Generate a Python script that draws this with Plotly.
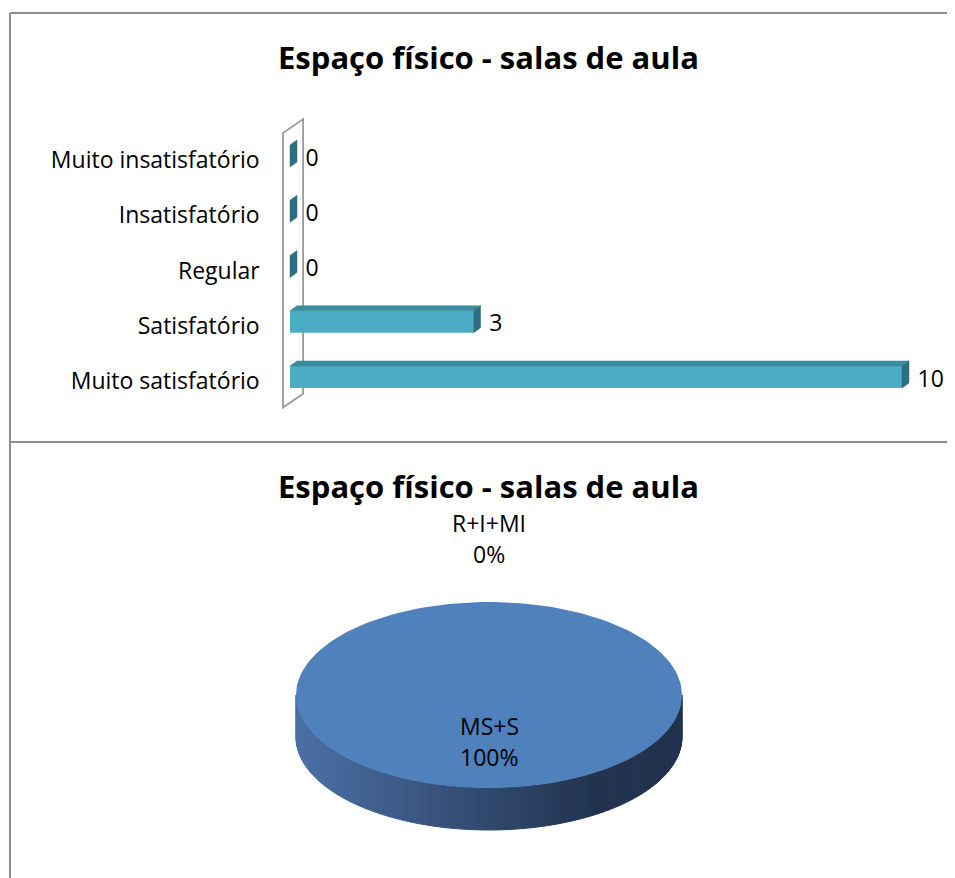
import math
import plotly.graph_objects as go

# ---------------- data ----------------
categories = ["Muito satisfatório", "Satisfatório", "Regular", "Insatisfatório", "Muito insatisfatório"]
counts = [10, 3, 0, 0, 0]
bar_title = "Espaço físico - salas de aula"

pie_labels = ["R+I+MI", "MS+S"]
pie_values = [0, 13]
pie_title = "Espaço físico - salas de aula"

# ---------------- geometry / style ----------------
PAGE_W, PAGE_H = 955, 878
OFF = 8                      # default body margin of the html page
W, H = PAGE_W - OFF, PAGE_H - OFF
FONT = "'Open Sans', sans-serif"
LBL_SIZE = 23
X0_PX, UX = 290.0, 61.2        # page pixel of value 0, px per unit
YC_PX, UY = 270.5, 55.25       # page pixel of category index 2, px per category
XR = [-0.25, 10.8]
YR = [-0.6, 4.9]
BAR_W, BAR_SHIFT = 0.4, 0.072
DX, DY = 7 / UX, 5 / UY        # bar depth
FRONT, TOP, SIDE = "#4BACC6", "#3C8A9E", "#2E6E80"

def pxx(p):
    return (p - OFF) / W

def pxy(p):
    return 1 - (p - OFF) / H

x_dom = [pxx(X0_PX + XR[0] * UX), pxx(X0_PX + XR[1] * UX)]
y_dom = [pxy(YC_PX - (YR[0] - 2) * UY), pxy(YC_PX - (YR[1] - 2) * UY)]

fig = go.Figure()

# back wall (below the bars)
wx0, wx1 = -0.114, 0.214
wy0, wy1, wdy = -0.48, 4.49, 0.25
fig.add_shape(type="path", xref="x", yref="y", layer="below",
              path=f"M {wx0},{wy0} L {wx0},{wy1} L {wx1},{wy1 + wdy} L {wx1},{wy0 + wdy} Z",
              fillcolor="white", line=dict(color="#9a9a9a", width=1.8))

idx = list(range(len(categories)))
# front faces
fig.add_trace(go.Bar(
    x=counts, y=idx, orientation="h", width=BAR_W, offset=-BAR_W / 2 + BAR_SHIFT,
    marker=dict(color=FRONT, line=dict(width=0)), hoverinfo="skip", showlegend=False,
    xaxis="x", yaxis="y"))

# top and side faces
for v, i in zip(counts, idx):
    yb = i - BAR_W / 2 + BAR_SHIFT
    yt = yb + BAR_W
    if v > 0:
        fig.add_trace(go.Scatter(
            x=[0, DX, v + DX, v, 0], y=[yt, yt + DY, yt + DY, yt, yt],
            mode="lines", fill="toself", fillcolor=TOP, line=dict(color=TOP, width=0.5),
            hoverinfo="skip", showlegend=False, xaxis="x", yaxis="y"))
    fig.add_trace(go.Scatter(
        x=[v, v + DX, v + DX, v, v], y=[yt, yt + DY, yb + DY, yb, yt],
        mode="lines", fill="toself", fillcolor=SIDE, line=dict(color=SIDE, width=0.5),
        hoverinfo="skip", showlegend=False, xaxis="x", yaxis="y"))

# value labels
fig.add_trace(go.Scatter(
    x=[v + DX + 0.14 for v in counts], y=idx, mode="text",
    text=[str(v) for v in counts], textposition="middle right",
    textfont=dict(family=FONT, size=LBL_SIZE, color="#000000"),
    cliponaxis=False, hoverinfo="skip", showlegend=False, xaxis="x", yaxis="y"))

# ---------------- 3D pie (ellipse) ----------------
CX, CY, RX, RY, DEPTH = 489.0, 695.0, 193.0, 93.0, 42.0
TOPC = "#4F81BD"
total = sum(pie_values)

def lerp_col(t):
    a = (0x4B, 0x70, 0xA6)
    b = (0x21, 0x33, 0x4E)
    t = max(0.0, min(1.0, t))
    return "rgb(%d,%d,%d)" % tuple(round(a[k] + (b[k] - a[k]) * t) for k in range(3))

# side band (front half of ellipse), drawn as strips with gradient
N = 90
for k in range(N):
    t0 = math.pi * k / N
    t1 = math.pi * (k + 1) / N
    xs0, ys0 = CX - RX * math.cos(t0), CY + RY * math.sin(t0)
    xs1, ys1 = CX - RX * math.cos(t1), CY + RY * math.sin(t1)
    xm = (xs0 + xs1) / 2
    col = lerp_col((xm - (CX - RX)) / 300.0)
    fig.add_trace(go.Scatter(
        x=[xs0, xs1, xs1, xs0, xs0], y=[ys0, ys1, ys1 + DEPTH, ys0 + DEPTH, ys0],
        mode="lines", fill="toself", fillcolor=col, line=dict(color=col, width=1),
        hoverinfo="skip", showlegend=False, xaxis="x2", yaxis="y2"))

# top faces of slices (angles clockwise from 12 o'clock)
LINE_GAP = 31
start = 0.0
for lab, val in zip(pie_labels, pie_values):
    frac = val / total
    a0, a1 = start, start + frac * 2 * math.pi
    if frac > 0:
        n = max(2, int(200 * frac))
        xs = [CX]
        ys = [CY]
        for j in range(n + 1):
            a = a0 + (a1 - a0) * j / n
            xs.append(CX + RX * math.sin(a))
            ys.append(CY - RY * math.cos(a))
        xs.append(CX)
        ys.append(CY)
        fig.add_trace(go.Scatter(
            x=xs, y=ys, mode="lines", fill="toself", fillcolor=TOPC,
            line=dict(color=TOPC, width=0), hoverinfo="skip", showlegend=False,
            xaxis="x2", yaxis="y2"))
    mid = (a0 + a1) / 2
    pct = "%d%%" % round(frac * 100)
    if frac >= 0.5:
        lx, ly = CX + 0.5 * RX * math.sin(mid), CY - 0.5 * RY * math.cos(mid)
    else:
        lx, ly = CX + (RX + 64) * math.sin(mid), CY - (RY + 64) * math.cos(mid)
    for dy, line_txt in [(-LINE_GAP / 2, lab), (LINE_GAP / 2, pct)]:
        fig.add_annotation(x=lx, y=ly + dy, xref="x2", yref="y2", text=line_txt,
                           showarrow=False,
                           font=dict(family=FONT, size=LBL_SIZE, color="#000000"),
                           xanchor="center", yanchor="middle")
    start = a1

# ---------------- titles ----------------
for ty, txt in [(57, bar_title), (486, pie_title)]:
    fig.add_annotation(x=pxx(489), y=pxy(ty), xref="paper", yref="paper",
                       text=f"<b>{txt}</b>", showarrow=False,
                       font=dict(family=FONT, size=31, color="#000000"),
                       xanchor="center", yanchor="middle")

# ---------------- frame lines ----------------
LC = "#8e8e8e"
fig.add_shape(type="line", xref="paper", yref="paper", x0=pxx(10), x1=pxx(10),
              y0=pxy(13), y1=0, line=dict(color=LC, width=2))
fig.add_shape(type="line", xref="paper", yref="paper", x0=pxx(10), x1=1,
              y0=pxy(13), y1=pxy(13), line=dict(color=LC, width=2))
fig.add_shape(type="line", xref="paper", yref="paper", x0=pxx(10), x1=1,
              y0=pxy(442), y1=pxy(442), line=dict(color=LC, width=2))

fig.update_layout(
    width=W, height=H, margin=dict(l=0, r=0, t=0, b=0),
    paper_bgcolor="white", plot_bgcolor="rgba(0,0,0,0)",
    showlegend=False, barmode="overlay",
    xaxis=dict(domain=x_dom, range=XR, visible=False, fixedrange=True),
    yaxis=dict(domain=y_dom, range=YR, tickmode="array", tickvals=idx, ticktext=categories,
               showgrid=False, zeroline=False, showline=False, ticks="",
               ticklabelstandoff=14, tickfont=dict(family=FONT, size=LBL_SIZE, color="#000000"),
               fixedrange=True),
    xaxis2=dict(domain=[0, 1], range=[OFF, PAGE_W], visible=False, anchor="y2", fixedrange=True),
    yaxis2=dict(domain=[0, pxy(445)], range=[PAGE_H, 445], visible=False, anchor="x2",
                fixedrange=True),
)

fig.write_html("out.html")
